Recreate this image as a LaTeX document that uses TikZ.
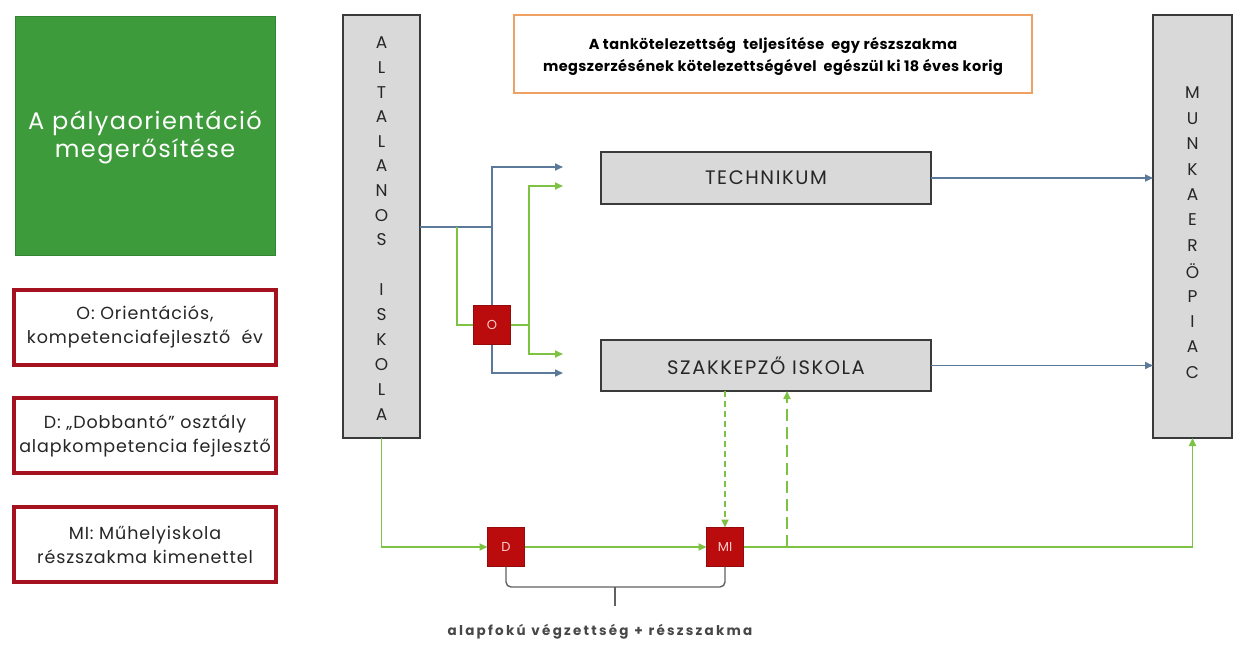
\documentclass[tikz,border=0pt]{standalone}
\usepackage{fontspec}
\setmainfont{Poppins}
\newfontfamily\wideA{Poppins}[LetterSpace=6]
\newfontfamily\wideB{Poppins}[LetterSpace=5]
\newfontfamily\wideC{Poppins}[LetterSpace=8]
\newfontfamily\wideD{Poppins}[LetterSpace=3]
\usetikzlibrary{arrows.meta}
\definecolor{boxgreen}{HTML}{3E9B3B}
\definecolor{lgreen}{HTML}{7DC242}
\definecolor{sqred}{HTML}{BA0C0C}
\definecolor{legred}{HTML}{A3121E}
\definecolor{bgray}{HTML}{5B7A99}
\definecolor{fillgray}{HTML}{D9D9D9}
\definecolor{edgegray}{HTML}{3A3A3A}
\definecolor{orng}{HTML}{EFA063}
\definecolor{txt}{HTML}{262626}
\begin{document}
\begin{tikzpicture}[x=1pt,y=-1pt,
  graybox/.style={draw=edgegray,fill=fillgray,line width=1.6pt,inner sep=0pt,outer sep=0pt},
  legbox/.style={draw=legred,line width=4pt,fill=white,minimum width=262pt,minimum height=75pt,inner sep=0pt,outer sep=0pt,
     text=txt,align=center,font=\wideB\fontsize{17.5}{24}\selectfont},
  redsq/.style={fill=sqred,draw=sqred!80!black,line width=0.6pt,minimum width=37pt,minimum height=39pt,inner sep=0pt,outer sep=0pt,
     text=white!80!red,font=\fontsize{13}{14}\selectfont},
  letter/.style={inner sep=0pt,text=txt,font=\fontsize{17}{17}\selectfont},
  schooltext/.style={text=txt,font=\wideC\fontsize{19.5}{22}\selectfont},
  bline/.style={draw=bgray,line width=1.6pt},
  gline/.style={draw=lgreen,line width=1.8pt},
  tip/.style={-{Triangle[length=8pt,width=7pt]}},
  tips/.style={{Triangle[length=8pt,width=7pt]}-{Triangle[length=8pt,width=7pt]}}
]
\useasboundingbox (0,0) rectangle (1247,647);

% left column
\node[fill=boxgreen,draw=boxgreen!85!black,line width=1pt,minimum width=260pt,minimum height=238pt,inner sep=0pt,outer sep=0pt] (green) at (145,136) {};
\node[text=white,align=center,inner sep=0pt,font=\wideA\fontsize{24}{28}\selectfont] (greentext) at (145,137) {A pályaorientáció\\megerősítése};
\node[legbox] (leg1) at (145,327) {O: Orientációs,\\kompetenciafejlesztő\ \ év};
\node[legbox] (leg2) at (145,435.5) {D: „Dobbantó”\ osztály\\alapkompetencia\ fejlesztő};
\node[legbox] (leg3) at (145,544.5) {MI: Műhelyiskola\\részszakma kimenettel};

% tall boxes
\node[graybox,minimum width=77pt,minimum height=423pt] (alt) at (381.5,226.5) {};
\node[graybox,minimum width=79pt,minimum height=423pt] (munka) at (1192.5,226.5) {};
\foreach \l [count=\i] in {A,L,T,A,L,A,N,O,S}
  \node[letter] (altA\i) at (381.5,{43+(\i-1)*24.6}) {\l};
\foreach \l [count=\i] in {I,S,K,O,L,A}
  \node[letter] (altB\i) at (381.5,{290+(\i-1)*25}) {\l};
\foreach \l [count=\i] in {M,U,N,K,A,E,R,Ö,P,I,A,C}
  \node[letter] (mk\i) at (1192.5,{93+(\i-1)*25.4}) {\l};

% orange box
\node[draw=orng,line width=2.2pt,minimum width=518pt,minimum height=78pt,inner sep=0pt,outer sep=0pt] (ob) at (773,54) {};
\node[align=center,inner sep=0pt,font=\wideD\fontsize{14.5}{22}\selectfont\bfseries] (obt) at (773,56)
  {A tankötelezettség\ \ teljesítése\ \ egy részszakma\\megszerzésének kötelezettségével\ \ egészül ki 18 éves korig};

% school boxes
\node[graybox,minimum width=330pt,minimum height=52pt,schooltext] (tech) at (766,178) {TECHNIKUM};
\node[graybox,minimum width=330pt,minimum height=51pt,schooltext] (szak) at (766,365.5) {SZAKKEPZŐ ISKOLA};

% coordinates
\coordinate (j1) at (492,227);
\coordinate (bA) at (492,167);
\coordinate (bB) at (492,373);
\coordinate (bTend) at (563,167);
\coordinate (bSend) at (563,373);
\coordinate (g1) at (457,227);
\coordinate (g2) at (529,325);
\coordinate (gA) at (529,186);
\coordinate (gB) at (529,354);
\coordinate (gTend) at (563,186);
\coordinate (gSend) at (563,354);
\coordinate (up) at (787,547);

% blue connectors from Altalanos
\draw[bline] (alt.east |- j1) -- (j1);
\draw[bline,tips] (bTend) -- (bA) -- (bB) -- (bSend);
% green through O
\draw[gline] (g1) |- (492,325);
\node[redsq] (O) at (492,325) {O};
\draw[gline] (O.east) -- (g2);
\draw[gline,tips] (gTend) -- (gA) -- (gB) -- (gSend);

% to labour market
\draw[bline,tip] (tech.east) -- (tech.east -| munka.west);
\draw[bline,tip] (szak.east) -- (szak.east -| munka.west);

% bottom green path
\node[redsq] (D) at (506,547) {D};
\node[redsq] (MI) at (725,547) {MI};
\draw[gline,tip] (alt.south) |- (D.west);
\draw[gline,tip] (D.east) -- (MI.west);
\draw[gline,tip] (MI.east) -| (munka.south);
\draw[gline,tip,dash pattern=on 6pt off 4pt] (MI.north |- szak.south) -- (MI.north);
\draw[gline,tip,dash pattern=on 12pt off 6pt] (up) -- (up |- szak.south);

% brace
\coordinate (bc) at (615,587);
\draw[draw=edgegray!80,line width=1.4pt,rounded corners=5pt] (D.south) -- (D.south |- bc) -- (bc -| MI.south) -- (MI.south);
\draw[draw=edgegray!80,line width=1.4pt] (bc) -- ++(0,19);
\node[text=txt!85,font=\fontsize{13.5}{16}\selectfont\bfseries,inner sep=0pt] (lbl) at (600,632)
  {a\,l\,a\,p\,f\,o\,k\,ú\ \ v\,é\,g\,z\,e\,t\,t\,s\,é\,g\ \ +\ \ r\,é\,s\,z\,s\,z\,a\,k\,m\,a};
\end{tikzpicture}
\end{document}
